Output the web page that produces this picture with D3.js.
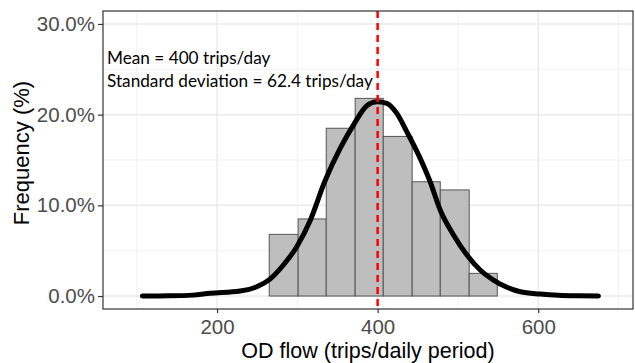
<!DOCTYPE html>
<html>
<head>
<meta charset="utf-8">
<script src="https://cdn.jsdelivr.net/npm/d3@7"></script>
<style>
  body { margin: 0; background: #fff; }
  text { font-family: "Liberation Sans", Arial, sans-serif; }
</style>
</head>
<body>
<div id="chart"></div>
<script>
// histogram bins (edges in trips/day, frequency in %)
var binEdges = [87, 122, 158, 194, 229, 265, 301, 336, 372, 407, 443, 478, 514, 549, 585, 621, 656, 692];
var binFreq  = [0, 0, 0, 0, 0, 6.8, 8.5, 18.5, 21.8, 17.6, 12.6, 11.7, 2.5, 0, 0, 0, 0];

// fitted density curve
var curveX = [107, 140, 170, 191.3, 228.7, 249.5, 266, 282.6, 299.3, 315.9, 334, 353.3, 369.8, 386.5, 399,
              411.5, 423.9, 436.4, 453, 465.4, 477.9, 494.5, 511.2, 527.7, 544.3, 561, 577.6, 602.5, 625, 650, 675];
var curveY = [0, 0.02, 0.1, 0.3, 0.55, 1.03, 1.87, 3.42, 5.44, 8.3, 12.6, 16.28, 18.85, 20.98, 21.42,
              21.25, 20.14, 18.11, 15.18, 12.6, 9.48, 6.73, 4.52, 2.87, 1.76, 0.96, 0.47, 0.22, 0.08, 0.02, 0];

var meanFlow = 400;
var xMajor = [200, 400, 600], xMinor = [100, 300, 500, 700];
var yMajor = [0, 10, 20, 30], yMinor = [5, 15, 25];
var notes = ["Mean = 400 trips/day", "Standard deviation = 62.4 trips/day"];

var W = 635, H = 363;
var margin = { top: 11, right: 2, bottom: 54, left: 103 };
var pw = W - margin.left - margin.right, ph = H - margin.top - margin.bottom;

var svg = d3.select("#chart").append("svg")
    .attr("width", W).attr("height", H);
var g = svg.append("g")
    .attr("transform", "translate(" + margin.left + "," + margin.top + ")");

var x = d3.scaleLinear().domain([58, 718]).range([0, pw]);
var y = d3.scaleLinear().domain([-1.43, 31.43]).range([ph, 0]);

// grid
g.selectAll(".xminor").data(xMinor).enter().append("line")
    .attr("x1", x).attr("x2", x).attr("y1", 0).attr("y2", ph)
    .attr("stroke", "#f2f2f2").attr("stroke-width", 1);
g.selectAll(".yminor").data(yMinor).enter().append("line")
    .attr("y1", y).attr("y2", y).attr("x1", 0).attr("x2", pw)
    .attr("stroke", "#f2f2f2").attr("stroke-width", 1);
g.selectAll(".xmajor").data(xMajor).enter().append("line")
    .attr("x1", x).attr("x2", x).attr("y1", 0).attr("y2", ph)
    .attr("stroke", "#ebebeb").attr("stroke-width", 1.5);
g.selectAll(".ymajor").data(yMajor).enter().append("line")
    .attr("y1", y).attr("y2", y).attr("x1", 0).attr("x2", pw)
    .attr("stroke", "#ebebeb").attr("stroke-width", 1.5);

// bars
var bins = binFreq.map(function (f, i) { return { x0: binEdges[i], x1: binEdges[i + 1], f: f }; });
g.selectAll(".bar").data(bins).enter().append("rect")
    .attr("x", function (d) { return x(d.x0); })
    .attr("width", function (d) { return x(d.x1) - x(d.x0); })
    .attr("y", function (d) { return y(d.f); })
    .attr("height", function (d) { return y(0) - y(d.f); })
    .attr("fill", "#bebebe")
    .attr("stroke", "#555")
    .attr("stroke-width", 1);

// density curve
var pts = curveX.map(function (v, i) { return [v, curveY[i]]; });
g.append("path")
    .attr("d", d3.line().x(function (d) { return x(d[0]); }).y(function (d) { return y(d[1]); })
        .curve(d3.curveMonotoneX)(pts))
    .attr("fill", "none").attr("stroke", "#000")
    .attr("stroke-width", 5).attr("stroke-linejoin", "round").attr("stroke-linecap", "round");

// mean line
g.append("line")
    .attr("x1", x(meanFlow)).attr("x2", x(meanFlow))
    .attr("y1", 0).attr("y2", ph)
    .attr("stroke", "#ff0000").attr("stroke-width", 2.5)
    .attr("stroke-dasharray", "7,5");

// notes
g.selectAll(".note").data(notes).enter().append("text")
    .attr("x", 4)
    .attr("y", function (d, i) { return 53 + i * 23; })
    .style("font-family", "Lato, 'Open Sans', sans-serif")
    .style("font-size", "17.2px")
    .attr("fill", "#000")
    .text(function (d) { return d; });

// panel border
g.append("rect")
    .attr("width", pw).attr("height", ph)
    .attr("fill", "none").attr("stroke", "#333").attr("stroke-width", 1.2);

// axes
var xAxis = g.append("g").attr("transform", "translate(0," + ph + ")")
    .call(d3.axisBottom(x).tickValues(xMajor).tickSize(4).tickPadding(6));
var yAxis = g.append("g")
    .call(d3.axisLeft(y).tickValues(yMajor).tickSize(5).tickPadding(3)
        .tickFormat(function (d) { return d3.format(".1f")(d) + "%"; }));
[xAxis, yAxis].forEach(function (a) {
    a.select(".domain").remove();
    a.selectAll(".tick line").attr("stroke", "#333").attr("stroke-width", 1.2);
    a.selectAll(".tick text").attr("fill", "#4d4d4d")
        .style("font-family", "'Liberation Sans', Arial, sans-serif").style("font-size", "20.5px");
});

// axis titles
svg.append("text")
    .attr("x", margin.left + pw / 2).attr("y", 358)
    .attr("text-anchor", "middle")
    .style("font-size", "21.5px").attr("fill", "#000")
    .text("OD flow (trips/daily period)");
svg.append("text")
    .attr("transform", "translate(29,153) rotate(-90)")
    .attr("text-anchor", "middle")
    .style("font-size", "22px").attr("fill", "#000")
    .text("Frequency (%)");
</script>
</body>
</html>
